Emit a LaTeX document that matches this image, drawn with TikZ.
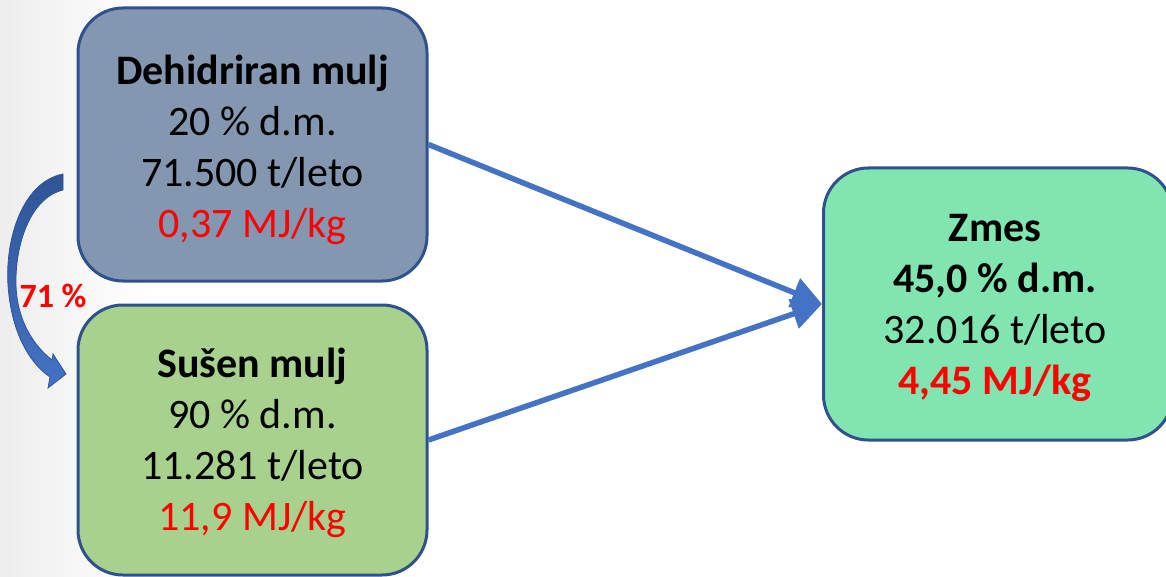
\documentclass[tikz,border=0pt]{standalone}
\usepackage{fontspec}
\setmainfont{Carlito}
\usetikzlibrary{arrows.meta}
\definecolor{edge}{HTML}{2F528F}
\definecolor{flowblue}{HTML}{4472C4}
\definecolor{flowdark}{HTML}{2F5597}
\definecolor{dewater}{HTML}{8497B0}
\definecolor{dried}{HTML}{A9D18E}
\definecolor{mix}{HTML}{80E5B1}
\definecolor{hot}{HTML}{FF0000}
\begin{document}
\begin{tikzpicture}[x=1pt,y=-1pt,
  box/.style={draw=edge, line width=3pt, rounded corners=45pt,
    minimum width=349pt, minimum height=272pt, inner sep=0pt},
  boxtext/.style={align=center, inner sep=0pt,
    font=\fontsize{42}{51}\selectfont},
  flow/.style={draw=flowblue, line width=5.5pt,
    -{Triangle[length=30pt,width=30pt]}},
  share/.style={text=hot, font=\bfseries\fontsize{34}{40}\selectfont}]
\useasboundingbox (0,0) rectangle (1166,577);
\clip (0,0) rectangle (1166,577);
% page background with a faint grey band on the left
\fill[white] (0,0) rectangle (1166,577);
\shade[left color=gray!14, right color=white] (0,0) rectangle (150,577);

% sludge streams
\node[box, fill=dewater, minimum height=273pt] (dew) at (252.5,144.5) {};
\node[box, fill=dried, minimum height=270pt] (dry) at (252.5,440) {};
\node[box, fill=mix] (mix) at (998,304) {};
\node[boxtext] (dewtxt) at ([yshift=-5pt]dew.center)
  {\textbf{Dehidriran mulj}\\20 \% d.m.\\71.500 t/leto\\\textcolor{hot}{0,37 MJ/kg}};
\node[boxtext] (drytxt) at ([yshift=-3pt]dry.center)
  {\textbf{Sušen mulj}\\90 \% d.m.\\11.281 t/leto\\\textcolor{hot}{11,9 MJ/kg}};
\node[boxtext] (mixtxt) at ([xshift=-3pt,yshift=-4pt]mix.center)
  {\textbf{Zmes}\\\textbf{45,0 \% d.m.}\\32.016 t/leto\\\textcolor{hot}{\textbf{4,45 MJ/kg}}};

% flows into the mixture
\draw[flow] (dew.east) -- (mix.west);
\draw[flow] (dry.east) -- (mix.west);

% curved block arrow: share of dewatered sludge that is dried
\shade[top color=flowdark, bottom color=flowblue, draw=flowdark, line width=0.8pt]
  (63,174) .. controls (22,182) and (5,240) .. (8,285)
  .. controls (11,330) and (28,362) .. (50,377)
  -- (48,388) -- (66,374) -- (53,354) -- (52,360)
  .. controls (33,345) and (17,320) .. (16,285)
  .. controls (15,245) and (30,198) .. (63,190) -- cycle;
\node[share] (pct) at (53,296) {71 \%};
\end{tikzpicture}
\end{document}
